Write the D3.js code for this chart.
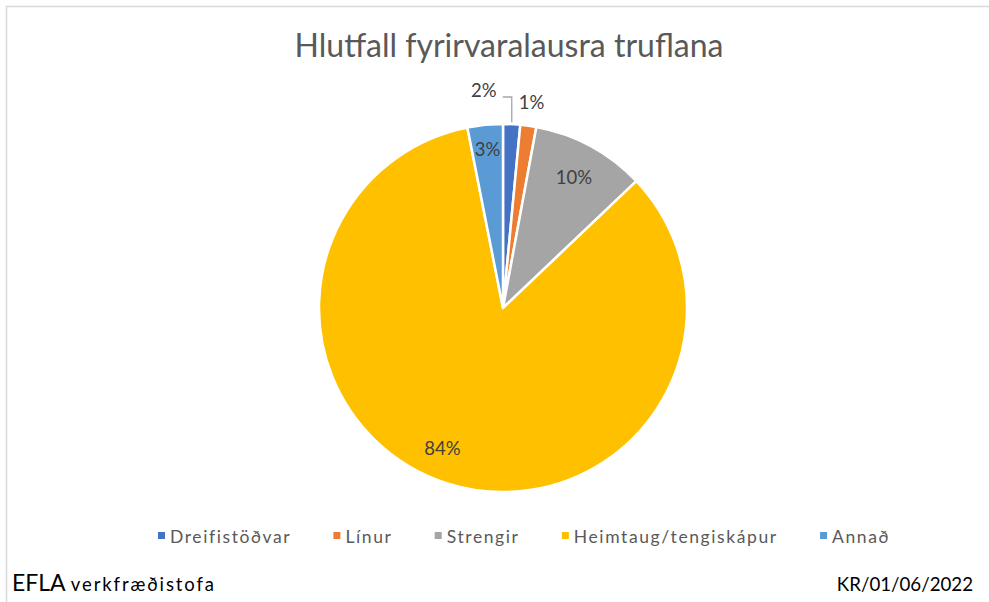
<!DOCTYPE html>
<html>
<head>
<meta charset="utf-8">
<script src="https://cdn.jsdelivr.net/npm/d3@7"></script>
<style>
  html, body { margin: 0; padding: 0; background: #fff; }
  svg { display: block; }
  text { font-family: Lato, "Open Sans", sans-serif; }
</style>
</head>
<body>
<svg id="chart" width="989" height="602"></svg>
<script>
// Share of unplanned outages by cause (percent)
const categories = ["Dreifistöðvar", "Línur", "Strengir", "Heimtaug/tengiskápur", "Annað"];
const shares = [1.5, 1.4, 10.0, 84.0, 3.1];
const colors = ["#4472C4", "#ED7D31", "#A5A5A5", "#FFC000", "#5B9BD5"];
const titleText = "Hlutfall fyrirvaralausra truflana";

const W = 989, H = 602;
const svg = d3.select("#chart");

// frame
svg.append("path")
  .attr("d", `M6.5,${H} V6.5 H${W}`)
  .attr("fill", "none")
  .attr("stroke", "#D9D9D9")
  .attr("stroke-width", 1.5);

// title
svg.append("text")
  .attr("x", 509).attr("y", 57)
  .attr("text-anchor", "middle")
  .attr("font-size", 32)
  .attr("fill", "#595959")
  .text(titleText);

const cx = 503, cy = 308, R = 184;
const g = svg.append("g").attr("transform", `translate(${cx},${cy})`);

const data = categories.map((c, i) => ({ name: c, value: shares[i], color: colors[i] }));
const pie = d3.pie().value(d => d.value).sort(null);
const arcs = pie(data);
const arc = d3.arc().innerRadius(0).outerRadius(R);

g.selectAll("path.slice")
  .data(arcs)
  .join("path")
  .attr("class", "slice")
  .attr("d", arc)
  .attr("fill", d => d.data.color)
  .attr("stroke", "#fff")
  .attr("stroke-width", 2.5)
  .attr("stroke-linejoin", "round");

// value labels
const LABEL_SIZE = 18.5;
const fmt = v => Math.round(v) + "%";
const pt = (a, r) => [r * Math.sin(a), -r * Math.cos(a)];
const mid = d => (d.startAngle + d.endAngle) / 2;

arcs.forEach((d, i) => {
  let x, y;
  if (i === 0) {
    // small first slice: label pulled outside with a leader
    const [ex, ey] = pt(mid(d), R + 2);
    y = -211;
    g.append("polyline")
      .attr("points", [[ex, ey], [ex, y], [ex - 9, y]].map(p => p.join(",")).join(" "))
      .attr("fill", "none")
      .attr("stroke", "#A6A6A6")
      .attr("stroke-width", 1.3);
    g.append("text").attr("x", ex - 28).attr("y", y - 7)
      .attr("text-anchor", "middle").attr("dominant-baseline", "central")
      .attr("font-size", LABEL_SIZE).attr("fill", "#404040").text(fmt(d.data.value));
    return;
  }
  if (i === 1) {
    [x, y] = pt(mid(d), R * 1.13);
  } else if (i === 3) {
    [x, y] = pt(mid(d), R * 0.8);
    x -= 16;
  } else if (i === 4) {
    [x, y] = pt(mid(d), R * 0.87);
  } else {
    [x, y] = pt(mid(d), R * 0.81);
  }
  g.append("text").attr("x", x).attr("y", y)
    .attr("text-anchor", "middle").attr("dominant-baseline", "central")
    .attr("font-size", LABEL_SIZE).attr("fill", "#404040").text(fmt(d.data.value));
});

// legend, spread across a fixed band
const legend = svg.append("g").attr("transform", "translate(158,536)");
const items = legend.selectAll("g.item").data(data).join("g").attr("class", "item");
items.append("rect").attr("width", 7).attr("height", 7).attr("y", -4)
  .attr("fill", d => d.color);
items.append("text").attr("x", 12).attr("y", 0)
  .attr("dominant-baseline", "central")
  .attr("font-size", 17.5).attr("letter-spacing", 1.6)
  .attr("fill", "#595959")
  .text(d => d.name);
const widths = [];
items.each(function () { widths.push(12 + d3.select(this).select("text").node().getComputedTextLength()); });
const band = 732;
const gap = (band - d3.sum(widths)) / (widths.length - 1);
let lx = 0;
items.each(function (d, i) {
  d3.select(this).attr("transform", `translate(${lx},0)`);
  lx += widths[i] + gap;
});

// footer
const foot = svg.append("text").attr("x", 12).attr("y", 591).attr("fill", "#000");
foot.append("tspan").attr("font-size", 23).text("EFLA ");
foot.append("tspan").attr("font-size", 18.5).attr("letter-spacing", 1.9).text("verkfræðistofa");

svg.append("text")
  .attr("x", 973).attr("y", 591)
  .attr("text-anchor", "end")
  .attr("font-size", 18.7)
  .attr("fill", "#000")
  .text("KR/01/06/2022");
</script>
</body>
</html>
